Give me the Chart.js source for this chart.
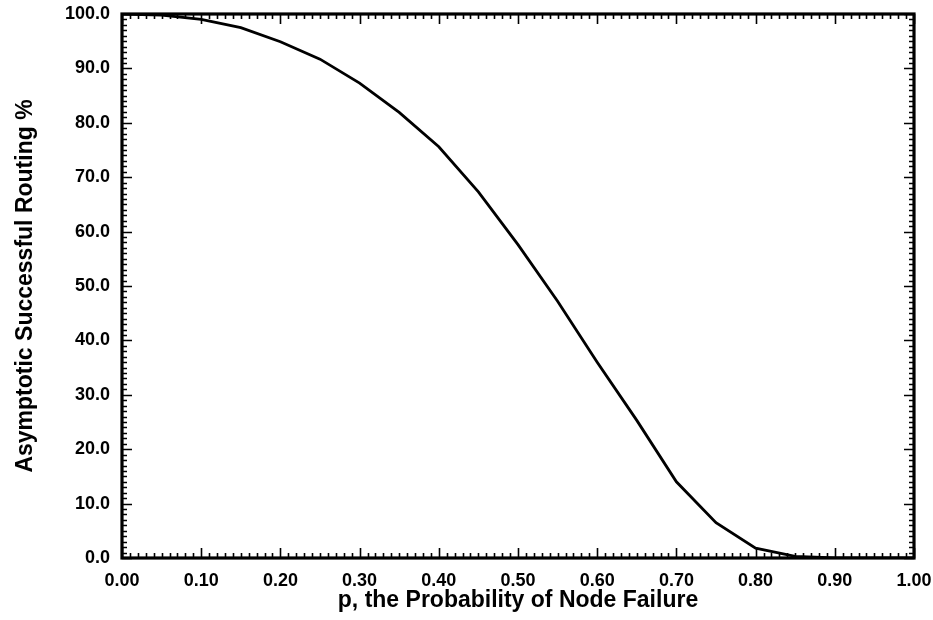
<!DOCTYPE html>
<html>
<head>
<meta charset="utf-8">
<title>Asymptotic Successful Routing</title>
<script src="https://cdn.jsdelivr.net/npm/chart.js@4.4.1/dist/chart.umd.min.js"></script>
<style>
  html, body { margin: 0; padding: 0; background: #fff; }
  #chart { display: block; }
</style>
</head>
<body>
<canvas id="chart" width="933" height="620"></canvas>
<script>
// p, probability of node failure
var pValues = [0.00, 0.05, 0.10, 0.15, 0.20, 0.25, 0.30, 0.35, 0.40, 0.45, 0.50,
               0.55, 0.60, 0.65, 0.70, 0.75, 0.80, 0.85, 0.90, 0.95, 1.00];
// asymptotic successful routing %
var routingPct = [100.0, 99.8, 99.0, 97.5, 94.9, 91.7, 87.3, 81.9, 75.6, 67.3, 57.6,
                  47.2, 36.0, 25.3, 14.0, 6.5, 1.8, 0.3, 0.0, 0.0, 0.0];

var xTickValues = [0, 0.1, 0.2, 0.3, 0.4, 0.5, 0.6, 0.7, 0.8, 0.9, 1.0];
var xTickLabels = ["0.00", "0.10", "0.20", "0.30", "0.40", "0.50", "0.60", "0.70", "0.80", "0.90", "1.00"];
var yTickValues = [0, 10, 20, 30, 40, 50, 60, 70, 80, 90, 100];
var yTickLabels = ["0.0", "10.0", "20.0", "30.0", "40.0", "50.0", "60.0", "70.0", "80.0", "90.0", "100.0"];

var X_MINOR_STEP = 0.01;
var Y_MINOR_STEP = 1;

var FONT = "'Liberation Sans', Arial, Helvetica, sans-serif";

/* frame + inward ticks on all four sides, like the original plot */
var frameTicks = {
  id: "frameTicks",
  afterDatasetsDraw: function (chart) {
    var ctx = chart.ctx;
    var a = chart.chartArea;
    var xs = chart.scales.x;
    var ys = chart.scales.y;
    var minorLen = 5, majorLen = 10;

    ctx.save();
    ctx.strokeStyle = "#000";
    ctx.lineCap = "butt";

    ctx.lineWidth = 1.6;
    ctx.beginPath();
    var nx = Math.round((xs.max - xs.min) / X_MINOR_STEP);
    for (var i = 0; i <= nx; i++) {
      var len = i % 10 === 0 ? majorLen : minorLen;
      var px = Math.round(xs.getPixelForValue(xs.min + i * X_MINOR_STEP)) + 0.5;
      ctx.moveTo(px, a.bottom);
      ctx.lineTo(px, a.bottom - len);
      ctx.moveTo(px, a.top);
      ctx.lineTo(px, a.top + len);
    }
    var ny = Math.round((ys.max - ys.min) / Y_MINOR_STEP);
    for (var j = 0; j <= ny; j++) {
      var len2 = j % 10 === 0 ? majorLen : minorLen;
      var py = Math.round(ys.getPixelForValue(ys.min + j * Y_MINOR_STEP)) + 0.5;
      ctx.moveTo(a.left, py);
      ctx.lineTo(a.left + len2, py);
      ctx.moveTo(a.right, py);
      ctx.lineTo(a.right - len2, py);
    }
    ctx.stroke();

    ctx.lineWidth = 3.2;
    ctx.strokeRect(a.left, a.top, a.right - a.left, a.bottom - a.top);
    ctx.restore();
  }
};

var points = pValues.map(function (p, i) { return { x: p, y: routingPct[i] }; });

var ctx = document.getElementById("chart").getContext("2d");
new Chart(ctx, {
  type: "line",
  data: {
    datasets: [
      {
        label: "Routing",
        data: points,
        borderColor: "#000",
        borderWidth: 2.8,
        pointRadius: 0,
        fill: false,
        tension: 0
      }
    ]
  },
  options: {
    responsive: false,
    animation: false,
    layout: { padding: { left: 8, right: 19, top: 14, bottom: 2 } },
    plugins: {
      legend: { display: false },
      tooltip: { enabled: false }
    },
    scales: {
      x: {
        type: "linear",
        min: 0,
        max: 1,
        afterBuildTicks: function (s) {
          s.ticks = xTickValues.map(function (v) { return { value: v }; });
        },
        afterFit: function (s) {
          s.height = 60;
          s.paddingLeft = 0;
          s.paddingRight = 0;
        },
        grid: { display: false, drawTicks: false },
        border: { display: false },
        ticks: {
          color: "#000",
          padding: 12,
          maxRotation: 0,
          autoSkip: false,
          font: { family: FONT, size: 18, weight: "bold" },
          callback: function (v, i) { return xTickLabels[i]; }
        },
        title: {
          display: true,
          text: "p, the Probability of Node Failure",
          color: "#000",
          padding: { top: 0, bottom: 4 },
          font: { family: FONT, size: 23, weight: "bold" }
        }
      },
      y: {
        min: 0,
        max: 100,
        afterBuildTicks: function (s) {
          s.ticks = yTickValues.map(function (v) { return { value: v }; });
        },
        afterFit: function (s) {
          s.width = 114;
          s.paddingTop = 0;
          s.paddingBottom = 0;
        },
        grid: { display: false, drawTicks: false },
        border: { display: false },
        ticks: {
          color: "#000",
          padding: 12,
          autoSkip: false,
          font: { family: FONT, size: 18, weight: "bold" },
          callback: function (v, i) { return yTickLabels[i]; }
        },
        title: {
          display: true,
          text: "Asymptotic Successful Routing %",
          color: "#000",
          padding: { top: 4, bottom: 0 },
          font: { family: FONT, size: 23, weight: "bold" }
        }
      }
    }
  },
  plugins: [frameTicks]
});
</script>
</body>
</html>
